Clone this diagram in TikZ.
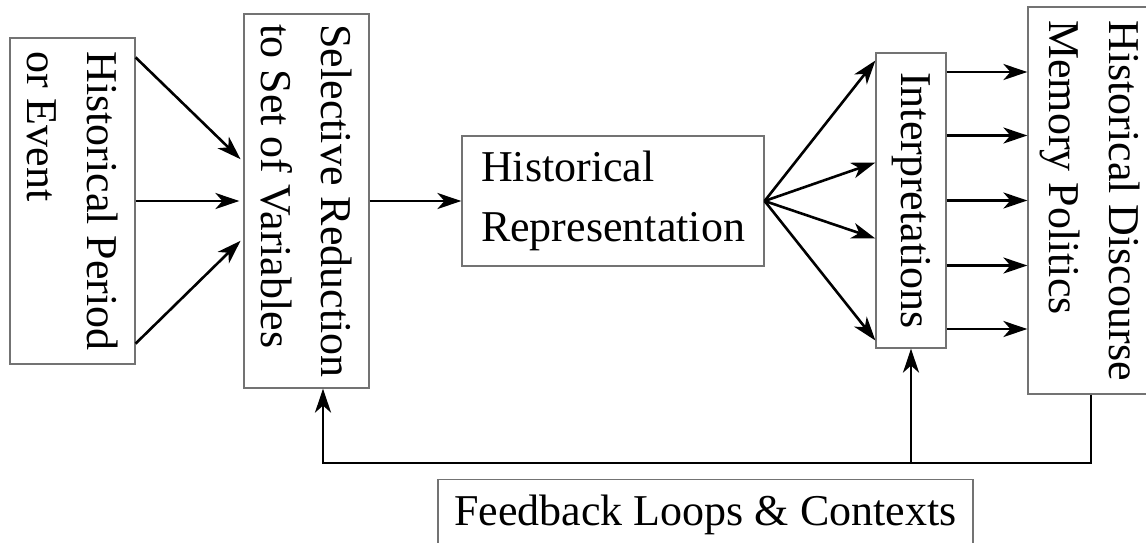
\documentclass[tikz,border=0pt]{standalone}
\usepackage{fontspec}
\setmainfont{Liberation Serif}
\usepackage{graphicx}
\usetikzlibrary{arrows.meta}
\newcommand{\vlines}[1]{\rotatebox[origin=c]{-90}{\vbox{#1}}}
\begin{document}
\begin{tikzpicture}[x=0.5pt,y=-0.5pt,
  boxnode/.style={draw=black!55,line width=0.6pt,inner sep=0pt,
    font=\fontsize{22}{30}\selectfont},
  conn/.style={line width=1.3pt,-{Stealth[length=12pt,width=8pt,inset=3.5pt]}}]
\useasboundingbox (0,0) rectangle (1146,542);
\node[boxnode,minimum width=62.5pt,minimum height=163pt] (b1) at (72.5,201)
  {\vlines{\hbox{Historical Period}\hbox{or Event}}};
\node[boxnode,minimum width=62.5pt,minimum height=187pt] (b2) at (306.5,201)
  {\vlines{\hbox{Selective Reduction}\hbox{to Set of Variables}}};
\node[boxnode,minimum width=151pt,minimum height=65pt] (b3) at (613,201)
  {\vbox{\hbox{Historical}\hbox{Representation}}};
\node[boxnode,minimum width=35pt,minimum height=147.5pt] (b4) at (911,200.5)
  {\rotatebox[origin=c]{-90}{Interpretations}};
\node[boxnode,minimum width=62pt,minimum height=193.5pt] (b5) at (1090,200.5)
  {\vlines{\hbox{Historical Discourse}\hbox{Memory Politics}}};
\node[boxnode,anchor=north,minimum width=267.5pt,inner ysep=7.5pt] (b6) at (705.5,479)
  {Feedback Loops \& Contexts};
\coordinate (fb) at (911,463);
% into selective reduction
\draw[conn,shorten >=2pt] ([yshift=-10pt]b1.north east) -- ([yshift=19.5pt]b2.west);
\draw[conn,shorten >=2pt] (b1.east) -- (b2.west);
\draw[conn,shorten >=2pt] ([yshift=10.5pt]b1.south east) -- ([yshift=-18.5pt]b2.west);
% to representation
\draw[conn] (b2.east) -- (b3.west);
% fan to interpretations
\draw[conn] (b3.east) -- ([yshift=70pt]b4.west);
\draw[conn] (b3.east) -- ([yshift=19pt]b4.west);
\draw[conn] (b3.east) -- ([yshift=-19pt]b4.west);
\draw[conn] (b3.east) -- ([yshift=-70pt]b4.west);
% interpretations to discourse
\foreach \s in {64.25,32.5,0,-32.5,-64.25}
  \draw[conn] ([yshift=\s pt]b4.east) -- ([yshift=\s pt]b5.west);
% feedback loops
\draw[conn] ([xshift=0.5pt]b5.south) |- (fb) -| ([xshift=8.25pt]b2.south);
\draw[conn] (fb) -- (b4.south);
\end{tikzpicture}
\end{document}
